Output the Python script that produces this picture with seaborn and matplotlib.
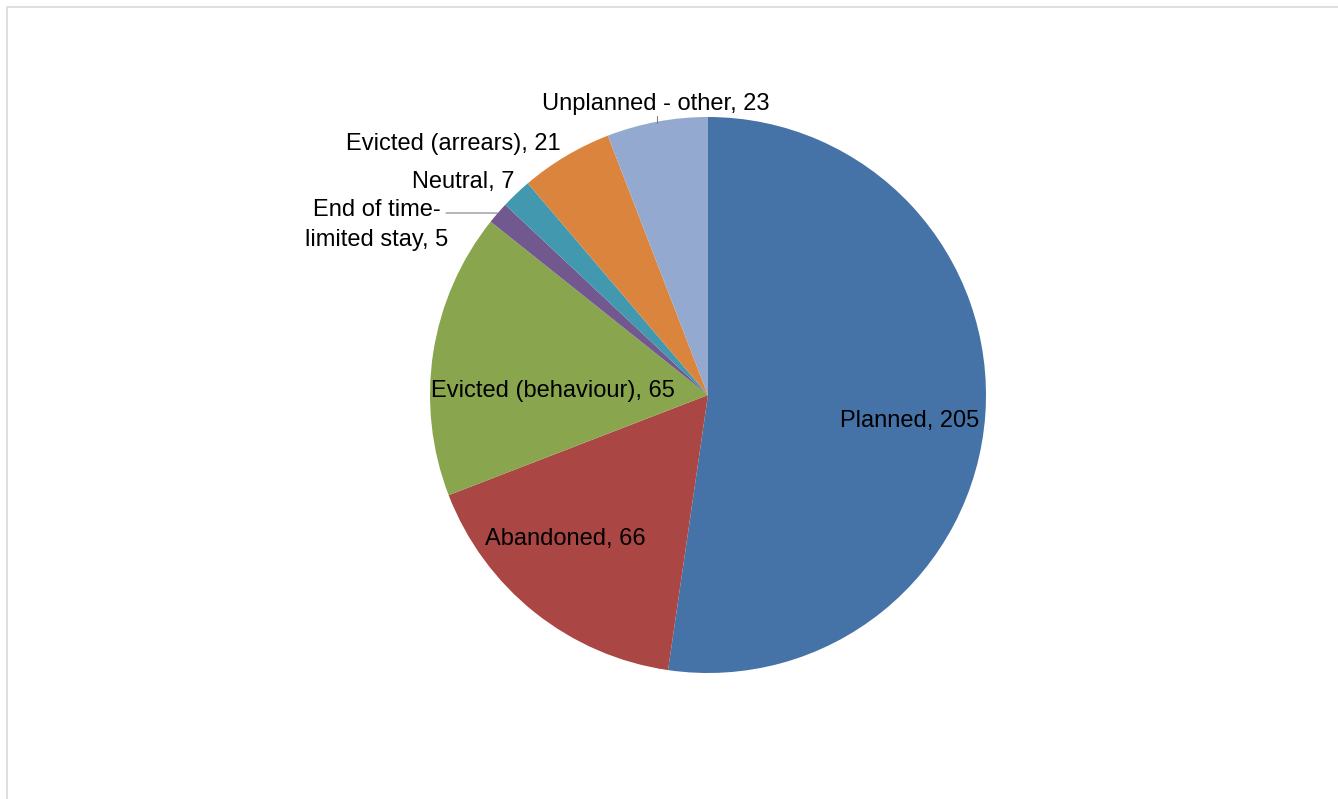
import numpy as np
import matplotlib
matplotlib.use('Agg')
import matplotlib.pyplot as plt
import seaborn as sns

# data (clockwise from 12 o'clock)
categories = ['Planned', 'Abandoned', 'Evicted (behaviour)', 'End of time-\nlimited stay',
              'Neutral', 'Evicted (arrears)', 'Unplanned - other']
counts = [205, 66, 65, 5, 7, 21, 23]
colours = ['#4572A7', '#AA4643', '#89A54E', '#71588F', '#4198AF', '#DB843D', '#93A9CF']

# label anchor points in pixel coords (x, y from top) and alignment
label_pos = [(910, 421, 'center'), (565, 539, 'center'), (553, 391, 'center'),
             (448, 225, 'right'), (514, 182, 'right'), (561, 144, 'right'),
             (656, 104, 'center')]

sns.set_theme(style='white')
plt.rcParams['font.family'] = ['Liberation Sans', 'DejaVu Sans']

W, H = 1338, 799
fig = plt.figure(figsize=(W / 100, H / 100), dpi=100)
ax = fig.add_axes([0, 0, 1, 1])

cx, cy, r = 708, H - 395, 278
wedges, _ = ax.pie(counts, colors=colours, startangle=90, counterclock=False,
                   center=(cx, cy), radius=r, frame=True,
                   wedgeprops=dict(linewidth=0))
ax.set_xlim(0, W)
ax.set_ylim(0, H)
ax.axis('off')

for (lab, n, (x, y, ha)) in zip(categories, counts, label_pos):
    ax.text(x, H - y, f'{lab}, {n}', ha=ha, va='center', fontsize=17,
            color='black', linespacing=1.42, multialignment='center')

# leader lines
w = wedges[3]
mid = np.deg2rad((w.theta1 + w.theta2) / 2)
ex, ey = cx + r * np.cos(mid), cy + r * np.sin(mid)
ax.plot([446, ex - 5, ex], [H - 213, H - 213, ey], color='#808080', lw=0.8)
ax.plot([657, 657], [H - 116, H - 123], color='#808080', lw=0.8)

# chart border (top and left visible)
ax.plot([7, 7, W + 5], [-5, H - 7, H - 7], color='#D9D9D9', lw=1.2, clip_on=False)

fig.savefig('out.png', dpi=100)
